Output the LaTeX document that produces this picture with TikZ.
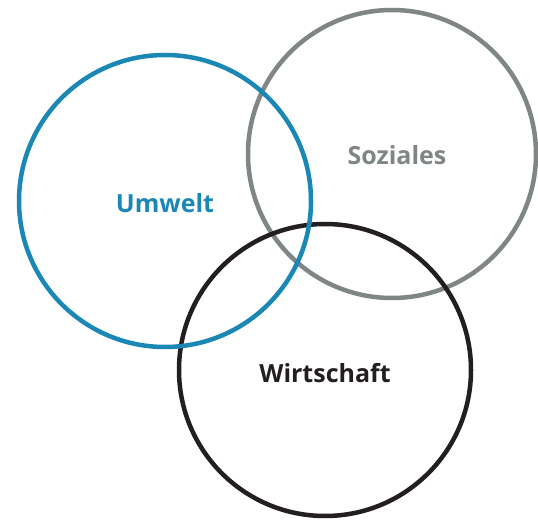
\documentclass[tikz,border=0pt]{standalone}
\usepackage{fontspec}
\setmainfont{Open Sans}
\definecolor{ublue}{HTML}{1A87B5}
\definecolor{sgrey}{HTML}{808585}
\definecolor{wblack}{HTML}{231F20}
\begin{document}
\begin{tikzpicture}[x=1pt,y=-1pt,
  ring/.style={line width=4.5pt},
  lbl/.style={font=\fontsize{25}{28}\selectfont\bfseries}]
\useasboundingbox (0,0) rectangle (538,521);
\draw[ring,sgrey] (392,154) circle[radius=144];
\draw[ring,wblack] (325,370) circle[radius=146];
\draw[ring,ublue] (165,201) circle[radius=146];
\node[lbl,text=ublue] (u) at (165,203) {Umwelt};
\node[lbl,text=sgrey] (s) at (397,155) {Soziales};
\node[lbl,text=wblack] (w) at (325,373) {Wirtschaft};
\end{tikzpicture}
\end{document}
